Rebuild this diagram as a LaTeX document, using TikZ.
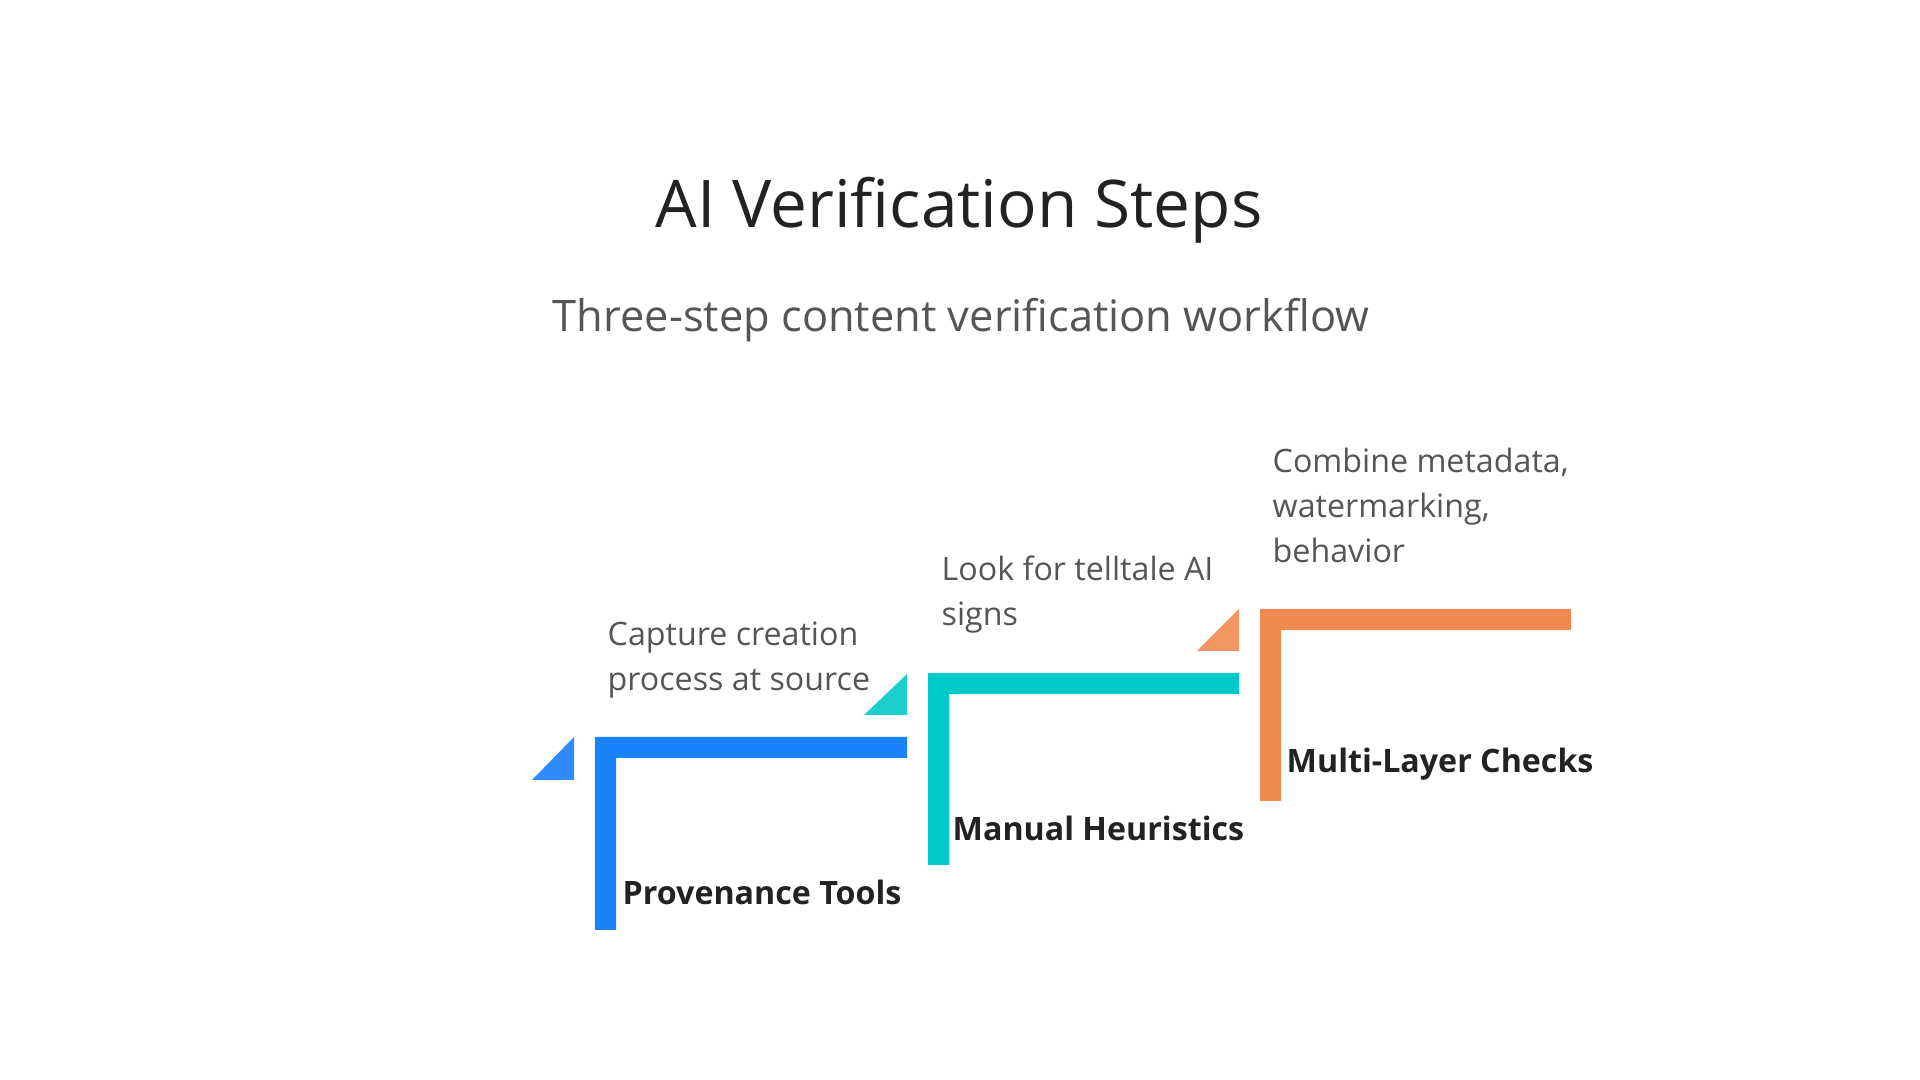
\documentclass[tikz,border=0pt]{standalone}
\usepackage{fontspec}
\setmainfont{Open Sans}
\usetikzlibrary{positioning, calc}
\definecolor{vblue}{HTML}{1A82FF}
\definecolor{vblue_l}{HTML}{2E8CFF}
\definecolor{vteal}{HTML}{00C9C8}
\definecolor{vteal_l}{HTML}{1CCFCF}
\definecolor{vorange}{HTML}{F0894F}
\definecolor{vorange_l}{HTML}{F29560}
\definecolor{vtext}{HTML}{555555}
\definecolor{vdark}{HTML}{222222}
\tikzset{
  heading/.style={inner sep=0,anchor=base,text=vdark,font=\fontsize{18.7}{21}\selectfont},
  subheading/.style={inner sep=0,anchor=base,text=vtext,font=\fontsize{12.35}{15}\selectfont},
  note/.style={inner sep=0,anchor=base west,align=left,text=vtext,font=\fontsize{9.16}{12.8}\selectfont},
  stagelabel/.style={inner sep=0,anchor=base west,text=vdark,font=\bfseries\fontsize{9.16}{12.8}\selectfont},
}
\begin{document}
\begin{tikzpicture}[x=0.01cm,y=-0.01cm]
	    \useasboundingbox (0,0) rectangle (1920,1080);
	    \node[heading] (T) at (959,228) {AI Verification Steps};
	    \node[subheading] (S) at (961,332) {Three-step content verification workflow};
	    % step bars
	    \fill[vblue] (595,737) -- (907,737) -- (907,758) -- (616,758) -- (616,930) -- (595,930) -- cycle;
	    \fill[vblue_l] (574,737) -- (574,780) -- (532,780) -- cycle;
	    \fill[vteal] (928,673) -- (1239,673) -- (1239,694) -- (949,694) -- (949,865) -- (928,865) -- cycle;
	    \fill[vteal_l] (907,674) -- (907,715) -- (864,715) -- cycle;
	    \fill[vorange] (1260,609) -- (1571,609) -- (1571,630) -- (1281,630) -- (1281,801) -- (1260,801) -- cycle;
	    \fill[vorange_l] (1239,609) -- (1239,651) -- (1197,651) -- cycle;
	    % texts (base = last line)
	    \node[note] (N1) at (607,691) {Capture creation\\process at source};
	    \node[note] (N2) at (941,626) {Look for telltale AI\\signs};
	    \node[note] (N3) at (1272,563) {Combine metadata,\\watermarking,\\behavior};
	    \node[stagelabel] (L1) at (622,905) {Provenance Tools};
	    \node[stagelabel] (L2) at (952,841) {Manual Heuristics};
	    \node[stagelabel] (L3) at (1286,773) {Multi-Layer Checks};
	\end{tikzpicture}
\end{document}
